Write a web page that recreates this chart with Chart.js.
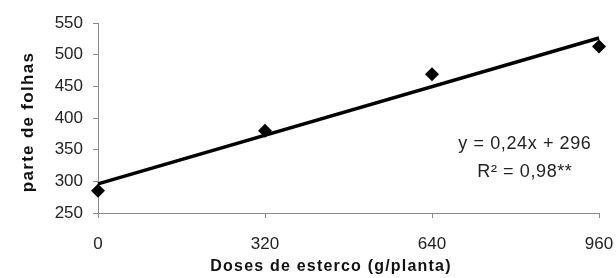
<!DOCTYPE html>
<html>
<head>
<meta charset="utf-8">
<script src="https://cdn.jsdelivr.net/npm/chart.js@4.4.0/dist/chart.umd.min.js"></script>
<style>
  html, body { margin: 0; padding: 0; background: #ffffff; }
  #wrap { width: 616px; height: 278px; position: relative; }
</style>
</head>
<body>
<div id="wrap"><canvas id="c" width="616" height="278"></canvas></div>
<script>
const doses = [0, 320, 640, 960];
const folhas = [285, 380, 469, 513];
// Fitted line y = 0,24x + 296 (end points)
const trendX = [0, 960];
const trendY = [296, 526.4];
const xTicks = [0, 320, 640, 960];
const yTicks = [250, 300, 350, 400, 450, 500, 550];
const eqLines = ['y = 0,24x + 296', 'R² = 0,98**'];
const xTitle = 'Doses de esterco (g/planta)';
const yTitle = 'parte de folhas';

const tickFont = { family: "'Liberation Sans Narrow', 'Liberation Sans', Arial, sans-serif", size: 17 };
const axisColor = '#8a8a8a';

const textPlugin = {
  id: 'texts',
  afterDraw(chart) {
    const { ctx, scales } = chart;
    ctx.save();
    // equation
    ctx.fillStyle = '#222';
    ctx.font = "18px 'Liberation Sans', Arial, sans-serif";
    ctx.letterSpacing = '0.6px';
    ctx.textAlign = 'center';
    ctx.textBaseline = 'middle';
    const cx = scales.x.getPixelForValue(818);
    ctx.fillText(eqLines[0], cx, scales.y.getPixelForValue(359));
    ctx.fillText(eqLines[1], cx, scales.y.getPixelForValue(315));
    // axis titles
    ctx.fillStyle = '#111';
    ctx.font = "bold 16px 'Liberation Sans', Arial, sans-serif";
    ctx.letterSpacing = '1.2px';
    ctx.fillText(xTitle, 331, 267);
    ctx.font = "bold 17px 'Liberation Sans', Arial, sans-serif";
    ctx.letterSpacing = '1.3px';
    ctx.translate(28, 122);
    ctx.rotate(-Math.PI / 2);
    ctx.fillText(yTitle, 0, 0);
    ctx.restore();
  }
};

new Chart(document.getElementById('c'), {
  type: 'scatter',
  data: {
    datasets: [
      {
        type: 'line',
        data: trendX.map((x, i) => ({ x, y: trendY[i] })),
        borderColor: '#000',
        borderWidth: 3.5,
        pointRadius: 0,
        fill: false,
        clip: false,
        order: 2
      },
      {
        data: doses.map((x, i) => ({ x, y: folhas[i] })),
        pointStyle: 'rectRot',
        pointRadius: 7,
        backgroundColor: '#000',
        borderColor: '#000',
        borderWidth: 0,
        clip: false,
        order: 1
      }
    ]
  },
  plugins: [textPlugin],
  options: {
    responsive: false,
    animation: false,
    events: [],
    layout: { padding: { top: 23, right: 17, left: 0, bottom: 0 } },
    plugins: { legend: { display: false }, tooltip: { enabled: false } },
    scales: {
      x: {
        type: 'linear',
        min: 0, max: 960,
        afterBuildTicks: (s) => { s.ticks = xTicks.map(v => ({ value: v })); },
        afterFit: (s) => { s.height = 65; s.paddingLeft = 0; s.paddingRight = 0; },
        grid: { drawOnChartArea: false, color: axisColor, tickLength: 5, tickColor: axisColor },
        border: { color: axisColor, width: 1 },
        ticks: { color: '#222', font: tickFont, padding: 16, maxRotation: 0 }
      },
      y: {
        type: 'linear',
        min: 250, max: 550,
        afterBuildTicks: (s) => { s.ticks = yTicks.map(v => ({ value: v })); },
        afterFit: (s) => { s.width = 98; s.paddingTop = 0; s.paddingBottom = 0; },
        grid: { drawOnChartArea: false, color: axisColor, tickLength: 5, tickColor: axisColor },
        border: { color: axisColor, width: 1 },
        ticks: { color: '#222', font: tickFont, padding: 10 }
      }
    }
  }
});
</script>
</body>
</html>
